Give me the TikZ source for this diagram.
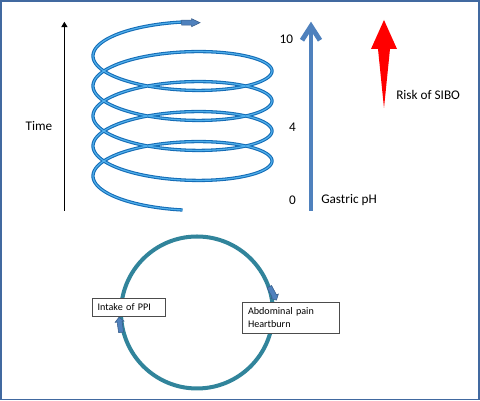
\documentclass[tikz,border=0pt]{standalone}
\usepackage{fontspec}
\setmainfont{Carlito}
\usetikzlibrary{arrows.meta, shapes.arrows}
\definecolor{framebar}{RGB}{65,105,160}
\definecolor{springblue}{RGB}{20,108,182}
\definecolor{springlight}{RGB}{80,175,235}
\definecolor{phblue}{RGB}{79,129,189}
\definecolor{tipedge}{RGB}{56,93,138}
\definecolor{cycleteal}{RGB}{49,132,155}

\begin{document}
\begin{tikzpicture}[>=Stealth, font=\fontsize{9.4}{11}\selectfont,
    statebox/.style={draw=black!70, fill=white, line width=0.5pt, align=left, font=\fontsize{7.2}{8.7}\selectfont},
    cycletip/.style={single arrow, draw=tipedge, fill=phblue, line width=0.4pt, inner sep=0.055cm, single arrow head extend=0.05cm, minimum height=0.38cm}]
    \useasboundingbox (0,0) rectangle (12,10.025);
    \draw[framebar, line width=1.1pt] (0.03,0.04) rectangle (11.97,9.995);

    \coordinate (t0) at (1.61,4.75);
    \coordinate (t1) at (1.61,9.48);
    \draw[-{Triangle[length=3.8pt,width=4.4pt]}, line width=0.7pt] (t0) -- (t1);
    \node (time) at (0.975,6.875) {Time};

    \draw[springblue, double=springlight, double distance=0.85pt, line width=0.75pt]
      plot[domain=90:1710, samples=500, smooth, variable=\t]
      ({4.5625+2.2375*cos(\t)}, {5.4375+0.75*(\t-90)/360-0.6625*sin(\t)});
    \draw[fill=phblue, draw=tipedge, line width=0.4pt] (4.54,9.395) -- (4.79,9.395) -- (4.79,9.3575) -- (5.0,9.4575)
      -- (4.79,9.5575) -- (4.79,9.52) -- (4.54,9.52) -- cycle;

    \coordinate (ph0) at (7.775,4.75);
    \coordinate (ph10) at (7.775,9.4825);
    \draw[phblue, line width=3.5pt, -{Straight Barb[length=0.35cm, width=0.45cm]}] (ph0) -- (ph10);
    \node (ph10lbl) at (7.16,9.04) {10};
    \node (ph4lbl) at (7.31,6.85) {4};
    \node (ph0lbl) at (7.31,5.02) {0};
    \node[anchor=west, inner sep=0pt] (phlbl) at (8.025,5.02) {Gastric pH};

    \fill[red] (9.6,9.525) -- (9.925,8.8) -- (9.75,8.8) -- (9.6,7.325) -- (9.45,8.8) -- (9.275,8.8) -- cycle;
    \node[anchor=west, inner sep=0pt] (sibo) at (9.9,7.66) {Risk of SIBO};

    \node[draw=cycleteal, line width=2.85pt, circle, minimum size=3.8cm] (cycle) at (4.925,2.2125) {};
    \node[statebox, text width=1.545cm, inner xsep=0.14cm, minimum height=0.45cm] (ppi) at (3.2125,2.35) {Intake of PPI};
    \node[statebox, text width=2.125cm, inner xsep=0.15cm, minimum height=0.775cm] (pain) at (7.2625,2.0875) {Abdominal pain\\Heartburn};
    \node[cycletip, rotate=-62] (tipa) at (cycle.15) {};
    \node[cycletip, rotate=98] (tipb) at (cycle.190) {};
  \end{tikzpicture}
\end{document}
